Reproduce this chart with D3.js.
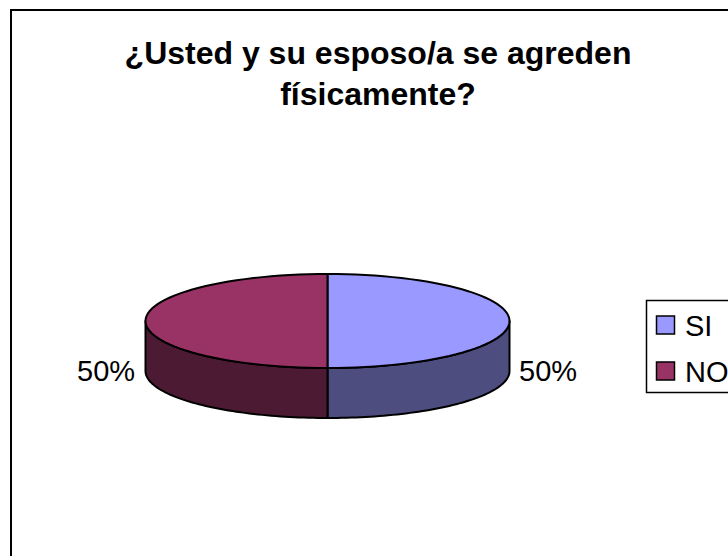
<!DOCTYPE html>
<html lang="en">

<head>
	<meta charset="utf-8">
	<title>Agresión física</title>
	<style>
		body {
			margin: 0;
			background: #fff;
			overflow: hidden;
		}

		text {
			font-family: "Liberation Sans", sans-serif;
			fill: #000;
		}
	</style>
</head>

<body>
	<svg></svg>

	<script src="https://d3js.org/d3.v7.min.js"></script>
	<script>
		var categories = ["SI", "NO"];
		var values = [50, 50];
		var percentLabels = ["50%", "50%"];
		var titleLines = ["¿Usted y su esposo/a se agreden", "físicamente?"];
		var topColors = ["#9999ff", "#993366"];
		var sideColors = ["#4d4d80", "#4d1a33"];

		var width = 728,
			height = 556;

		var svg = d3.select("svg")
			.attr("width", width)
			.attr("height", height)
			.style("display", "block");

		// chart frame, right and bottom edges fall outside the window
		svg.append("rect")
			.attr("x", 11)
			.attr("y", 10)
			.attr("width", 760)
			.attr("height", 600)
			.attr("fill", "#fff")
			.attr("stroke", "#000")
			.attr("stroke-width", 2);

		svg.selectAll(".title")
			.data(titleLines)
			.enter().append("text")
			.attr("class", "title")
			.attr("x", 378)
			.attr("y", function(d, i) { return 64 + i * 41; })
			.attr("text-anchor", "middle")
			.attr("font-size", 32)
			.attr("font-weight", "bold")
			.text(function(d) { return d; });

		// pie geometry
		var cx = 327.5, cy = 321, rx = 182, ry = 47, depth = 50;

		var pie = d3.pie().sort(null);
		var slices = pie(values);

		var px = d3.scaleLinear().domain([-1, 1]).range([cx - rx, cx + rx]);
		var py = d3.scaleLinear().domain([-1, 1]).range([cy - ry, cy + ry]);
		var line = d3.line();

		function rimPoint(a, dy) {
			return [px(Math.sin(a)), py(-Math.cos(a)) + dy];
		}

		function rim(a0, a1, dy) {
			return d3.range(0, 61).map(function(i) {
				return rimPoint(a0 + (a1 - a0) * i / 60, dy);
			});
		}

		// side walls: only the part of each slice facing the front
		slices.forEach(function(s, i) {
			var a0 = Math.max(s.startAngle, Math.PI / 2),
				a1 = Math.min(s.endAngle, Math.PI * 3 / 2);
			if (a1 <= a0) return;
			var pts = rim(a0, a1, 0).concat(rim(a1, a0, depth));
			svg.append("path")
				.attr("d", line(pts) + "Z")
				.attr("fill", sideColors[i])
				.attr("stroke", "#000")
				.attr("stroke-width", 2)
				.attr("stroke-linejoin", "round");
		});

		// top faces
		slices.forEach(function(s, i) {
			var pts = [[cx, cy]].concat(rim(s.startAngle, s.endAngle, 0));
			svg.append("path")
				.attr("d", line(pts) + "Z")
				.attr("fill", topColors[i])
				.attr("stroke", "#000")
				.attr("stroke-width", 2)
				.attr("stroke-linejoin", "round");
		});

		svg.selectAll(".pct")
			.data(percentLabels)
			.enter().append("text")
			.attr("class", "pct")
			.attr("x", function(d, i) { return i === 0 ? 519 : 77; })
			.attr("y", 381)
			.attr("font-size", 29)
			.text(function(d) { return d; });

		// legend
		svg.append("rect")
			.attr("x", 646.5)
			.attr("y", 300.5)
			.attr("width", 100)
			.attr("height", 92)
			.attr("fill", "#fff")
			.attr("stroke", "#000")
			.attr("stroke-width", 1.5);

		var legendY = d3.scalePoint().domain(categories).range([325, 371]);

		svg.selectAll(".swatch")
			.data(categories)
			.enter().append("rect")
			.attr("class", "swatch")
			.attr("x", 656.5)
			.attr("y", function(d) { return legendY(d) - 9; })
			.attr("width", 18)
			.attr("height", 18)
			.attr("fill", function(d, i) { return topColors[i]; })
			.attr("stroke", "#000")
			.attr("stroke-width", 1.5);

		svg.selectAll(".legend-label")
			.data(categories)
			.enter().append("text")
			.attr("class", "legend-label")
			.attr("x", 685)
			.attr("y", function(d) { return legendY(d) + 10.5; })
			.attr("font-size", 29)
			.text(function(d) { return d; });
	</script>
</body>

</html>
